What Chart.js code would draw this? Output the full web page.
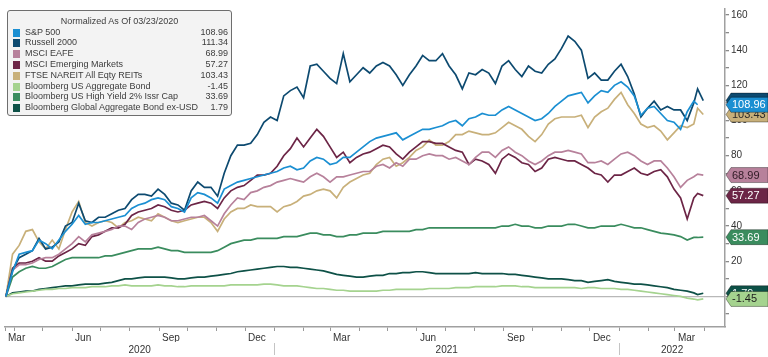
<!DOCTYPE html>
<html>
<head>
<meta charset="utf-8">
<script src="https://cdn.jsdelivr.net/npm/chart.js"></script>
<style>
html,body{margin:0;padding:0;background:#fff;}
#wrap{position:relative;width:768px;height:357px;overflow:hidden;}
#c{position:absolute;left:0;top:0;}
#legend{position:absolute;left:7px;top:10px;width:225px;height:106px;box-sizing:border-box;background:#f3f3f3;border:1px solid #6e6e6e;border-radius:3px;font-family:"Liberation Sans",Arial,sans-serif;font-size:9px;color:#3c3c3c;}
#legend .title{position:absolute;left:0;right:0;top:5px;text-align:center;line-height:11px;}
#legend .row{position:absolute;left:0;right:0;height:11px;line-height:11px;}
#legend .sw{position:absolute;left:5px;top:2px;width:7px;height:8px;}
#legend .nm{position:absolute;left:17px;top:0;white-space:nowrap;}
#legend .vl{position:absolute;right:3px;top:0;white-space:nowrap;}
</style>
</head>
<body>
<div id="wrap">
<canvas id="c" width="768" height="357"></canvas>
<div id="legend"></div>
</div>
<script>
// ---------- data ----------
const legendTitle = 'Normalized As Of 03/23/2020';
const seriesNames = ['S&P 500','Russell 2000','MSCI EAFE','MSCI Emerging Markets','FTSE NAREIT All Eqty REITs','Bloomberg US Aggregate Bond','Bloomberg US High Yield 2% Issr Cap','Bloomberg Global Aggregate Bond ex-USD'];
const lastLabels = ['108.96','111.34','68.99','57.27','103.43','-1.45','33.69','1.79'];
const monthNames = ['Jan','Feb','Mar','Apr','May','Jun','Jul','Aug','Sep','Oct','Nov','Dec'];
const quarterMonths = ['Mar','Jun','Sep','Dec'];
const yearLabels = ['2020','2021','2022'];

const dates = ['2020-03-23','2020-03-30','2020-04-06','2020-04-13','2020-04-20','2020-04-27','2020-05-04','2020-05-11','2020-05-18','2020-05-25',
'2020-06-01','2020-06-08','2020-06-15','2020-06-22','2020-06-29','2020-07-06','2020-07-13','2020-07-20','2020-07-27','2020-08-03',
'2020-08-10','2020-08-17','2020-08-24','2020-08-31','2020-09-07','2020-09-14','2020-09-21','2020-09-28','2020-10-05','2020-10-12',
'2020-10-19','2020-10-26','2020-11-02','2020-11-09','2020-11-16','2020-11-23','2020-11-30','2020-12-07','2020-12-14','2020-12-21',
'2020-12-28','2021-01-04','2021-01-11','2021-01-18','2021-01-25','2021-02-01','2021-02-08','2021-02-15','2021-02-22','2021-03-01',
'2021-03-08','2021-03-15','2021-03-22','2021-03-29','2021-04-05','2021-04-12','2021-04-19','2021-04-26','2021-05-03','2021-05-10',
'2021-05-17','2021-05-24','2021-05-31','2021-06-07','2021-06-14','2021-06-21','2021-06-28','2021-07-05','2021-07-12','2021-07-19',
'2021-07-26','2021-08-02','2021-08-09','2021-08-16','2021-08-23','2021-08-30','2021-09-06','2021-09-13','2021-09-20','2021-09-27',
'2021-10-04','2021-10-11','2021-10-18','2021-10-25','2021-11-01','2021-11-08','2021-11-15','2021-11-22','2021-11-29','2021-12-06',
'2021-12-13','2021-12-20','2021-12-27','2022-01-03','2022-01-10','2022-01-17','2022-01-24','2022-01-31','2022-02-07','2022-02-14',
'2022-02-21','2022-02-28','2022-03-07','2022-03-14','2022-03-21','2022-03-25','2022-03-31'];

const sp500 = [0,14,24,25,26,32,30,27,32,37, 41,46,41,42,42,43,44,45,46,50, 52,53,55,56,55,51,50,48,56,59,
 58,56,53,61,63,65,66,67,68,69, 70,71,73,74,72,73,77,79,78,75, 76,79,79,82,85,88,90,91,92,93,
 89,91,93,95,95,96,97,99,100,97, 101,102,104,103,103,106,108,106,104,102, 100,101,104,108,111,114,115,116,110,114,
 117,116,120,122,119,114,103,107,108,104, 100,99,95,105,111,108.96];
const russell2000 = [0,15,22,24,26,33,27,28,31,40, 42,53,43,42,45,45,47,49,50,55, 58,58,57,61,58,53,52,49,60,65,
 62,62,57,70,80,86,86,87,92,99, 102,100,114,117,119,113,131,132,128,124, 121,138,122,126,130,127,131,133,131,126,
 120,126,131,137,134,134,138,131,126,118, 127,126,129,127,121,131,134,129,125,131, 128,127,132,135,141,148,145,140,124,127,
 123,123,128,132,125,115,102,107,111,106, 108,106,106,100,110,118,111.34];
const msciEafe = [0,15,18,18,19,21,22,22,24,27, 30,34,31,35,36,37,38,40,40,38, 42,44,45,46,45,43,43,44,45,45,
 46,43,40,47,52,56,55,59,60,62, 63,65,66,67,66,65,68,70,68,65, 68,68,69,70,71,71,74,75,73,76,
 74,78,78,80,81,80,80,78,79,77, 75,79,82,82,79,83,85,82,80,77, 75,77,80,82,82,83,82,81,76,76,
 77,75,78,81,82,80,77,75,77,77, 73,68,62,66,68,69.5,68.99];
const msciEm = [0,16,19,19,20,22,20,20,23,25, 27,30,29,34,35,37,39,39,41,46, 48,49,50,52,51,49,48,49,52,53,
 54,53,50,56,60,62,63,66,69,69, 70,74,80,84,90,85,90,95,91,85, 79,82,76,79,81,82,84,86,85,81,
 78,82,85,88,88,87,87,85,83,82, 75,78,77,75,70,78,81,79,76,75, 71,73,78,79,78,77,77,75,73,70,
 69,65,69,69,71,73,70,69,71,72, 68,61,56,44,56,58.5,57.27];
const nareit = [0,24,29,37,38,31,27,32,27,38, 48,54,42,40,42,43,42,39,42,43, 45,44,43,47,45,43,42,43,44,45,
 45,42,37,44,48,50,50,52,51,51, 51,48,51,52,54,57,58,60,61,60, 56,62,65,67,69,70,75,78,79,74,
 76,79,83,85,89,86,86,88,92,92, 94,93,92,92,93,96,99,97,95,91, 88,92,98,101,102,102,102,103,96,102,
 105,107,112,116,109,104,98,96,97,94, 89,93,97,96,98,107,103.43];
const usAgg = [0,1.5,2,2.5,3,3.5,4,4,4.5,4.5, 5,5,5,5.5,5.5,5.5,6,6,6.5,6, 6,6,6,6.5,6,6,5.5,5.5,6,6,
 6,6,6,6,6.5,6.5,6.5,6.5,6.5,7, 7,6.5,6,6,6,5.5,5,4.5,4.5,4, 3.5,3.5,3,3,3,3,3,3.5,3.5,4,
 4,4,4,4,4.5,4.5,4.5,4.5,5,5, 5,5.5,5.5,5.5,5.5,6,6,6,5.5,5.5, 5,5,5,5,5,5,5,4.5,5,5,
 4.5,4.5,4.5,4,4,3.5,3,2.5,2,1.5, 1,0.5,0,-1,-1.5,-2,-1.45];
const usHighYield = [0,11,14,16,17,16,16,17,19,21, 22,22,22,22,22,23,23,24,25,26, 27,27,27,28,27,26,26,25,25,25,
 25,25,26,28,30,31,32,32,33,33, 33,33,34,34,34,35,36,36,35,35, 34,34,35,35,36,36,36,37,37,37,
 37,37,38,38,39,39,39,39,39,39, 39,39,39,39,39,40,40,41,40,40, 39,39,40,40,40,41,41,40,39,39,
 40,40,40,41,40,39,39,38,37,36, 35.5,35,34,32,33.5,33.5,33.69];
const globalAggExUsd = [0,2,2.5,3,3,4,4.5,5,5.5,6, 6,6.5,7,7,7,7.5,8,9,10,10, 10.5,11,11,11,11,10.5,10,10,10.5,11,
 11,11.5,12,12.5,13,14,14.5,15,15.5,16, 16.5,17,17,16.5,16.5,16,15.5,15,14.5,13.5, 12.5,12,11.5,11,11,11.5,12,12,13,13,
 13.5,13.5,14,14,13.5,13,13,13,13,13, 13,13.5,13,13,13,13,12.5,12.5,12,11.5, 11,10.5,10,10,10,9.5,9,9,8,8.5,
 9,9.5,8.5,8,7.5,7,7,6.5,6,5.5, 5,4,3.5,3,2,1,1.79];

const yTickStep = 10;
const yLabelStep = 20;

// ---------- styles ----------
const colors = ['#1b8fd2','#0d4a70','#b7819b','#6c2546','#c8b07a','#a5d38f','#3a8c5e','#0e5147'];
const tagTextColors = ['#ffffff','#ffffff','#2e1a24','#ffffff','#2a2a2a','#1e1e1e','#ffffff','#ffffff'];
const tagShowText = [true,false,true,true,true,true,true,true];
const tagDrawOrder = [7,6,5,4,3,2,1,0];
const FONT = '"Liberation Sans", Arial, sans-serif';

const seriesValues = [sp500, russell2000, msciEafe, msciEm, nareit, usAgg, usHighYield, globalAggExUsd];

// ---------- legend (HTML) ----------
(function(){
  const lg = document.getElementById('legend');
  const t = document.createElement('div'); t.className='title'; t.textContent = legendTitle; lg.appendChild(t);
  seriesNames.forEach((n,i)=>{
    const r = document.createElement('div'); r.className='row'; r.style.top = (15.5 + i*10.8) + 'px';
    const s = document.createElement('div'); s.className='sw'; s.style.background = colors[i]; r.appendChild(s);
    const a = document.createElement('div'); a.className='nm'; a.textContent = n; r.appendChild(a);
    const b = document.createElement('div'); b.className='vl'; b.textContent = lastLabels[i]; r.appendChild(b);
    lg.appendChild(r);
  });
})();

// ---------- axes helpers ----------
const base = Date.UTC(2020,2,23);
const toDay = s => (Date.UTC(+s.slice(0,4), +s.slice(5,7)-1, +s.slice(8,10)) - base)/86400000;
const xs = dates.map(toDay);
const X_MIN = -1, X_MAX = 761;

const monthTicks = [{value:X_MIN, label:'Mar'}];
for (let y=2020; y<=2022; y++) for (let m=0; m<12; m++) {
  const d = (Date.UTC(y,m,1)-base)/86400000;
  if (d > 0 && d <= X_MAX) monthTicks.push({value:d, label: quarterMonths.includes(monthNames[m]) ? monthNames[m] : ''});
}
const jan2021 = toDay('2021-01-01'), jan2022 = toDay('2022-01-01');
const yearTicks = [
  {value:(X_MIN+jan2021)/2, label:yearLabels[0]},
  {value:(jan2021+jan2022)/2, label:yearLabels[1]},
  {value:(jan2022+X_MAX)/2, label:yearLabels[2]}
];

const datasets = seriesNames.map((n,i)=>({
  label:n,
  data: seriesValues[i].map((v,j)=>({x:xs[j], y:v})),
  borderColor: colors[i], backgroundColor: colors[i],
  borderWidth:1.7, pointRadius:0, tension:0, fill:false
}));

const tagPlugin = {
  id:'tags',
  afterDraw(chart){
    const c = chart.ctx, ys = chart.scales.y, xsc = chart.scales.x, ca = chart.chartArea;
    const yb = chart.scales.xYear;
    c.save();
    c.strokeStyle = '#c4c4c4'; c.lineWidth = 1;
    [jan2021, jan2022].forEach(d=>{
      const px = Math.round(xsc.getPixelForValue(d)) + 0.5;
      c.beginPath(); c.moveTo(px, yb.top+1); c.lineTo(px, yb.bottom-2); c.stroke();
    });
    const x0 = ca.right;
    tagDrawOrder.forEach(i=>{
      const arr = seriesValues[i];
      const y = ys.getPixelForValue(arr[arr.length-1]);
      const h = 7.5;
      c.beginPath();
      c.moveTo(x0+1, y);
      c.lineTo(x0+6, y-h);
      c.lineTo(768, y-h);
      c.lineTo(768, y+h);
      c.lineTo(x0+6, y+h);
      c.closePath();
      c.fillStyle = colors[i]; c.fill();
      c.strokeStyle = 'rgba(0,0,0,0.35)'; c.lineWidth = 1; c.stroke();
      if (tagShowText[i]) {
        c.fillStyle = tagTextColors[i];
        c.font = '11px ' + FONT;
        c.textAlign = 'left'; c.textBaseline = 'middle';
        c.fillText(lastLabels[i], x0+7, y+0.5);
      }
    });
    c.restore();
  }
};

new Chart(document.getElementById('c'), {
  type:'line',
  data:{datasets},
  options:{
    responsive:false, animation:false, maintainAspectRatio:false,
    layout:{padding:{left:5, top:9, right:0, bottom:0}},
    plugins:{legend:{display:false}, tooltip:{enabled:false}},
    scales:{
      x:{
        type:'linear', position:'bottom', min:X_MIN, max:X_MAX,
        afterBuildTicks: s => { s.ticks = monthTicks.map(t=>({value:t.value})); },
        ticks:{autoSkip:false, maxRotation:0, minRotation:0, align:'start', labelOffset:3, padding:1,
               color:'#333', font:{family:FONT, size:10},
               callback:(v,i)=> monthTicks[i] ? monthTicks[i].label : ''},
        grid:{drawOnChartArea:false, tickLength:4, color:'#999', tickColor:'#999'},
        border:{color:'#a0a0a0', width:1.5},
        afterFit: s => { s.height = 15; }
      },
      xYear:{
        type:'linear', position:'bottom', weight:1, min:X_MIN, max:X_MAX,
        afterBuildTicks: s => { s.ticks = yearTicks.map(t=>({value:t.value})); },
        ticks:{autoSkip:false, maxRotation:0, minRotation:0, padding:2,
               color:'#333', font:{family:FONT, size:10},
               callback:(v,i)=> yearTicks[i] ? yearTicks[i].label : ''},
        grid:{display:false, drawTicks:false},
        border:{display:false},
        afterFit: s => { s.height = 15; }
      },
      y:{
        position:'right', min:-17.4, max:163.4,
        ticks:{stepSize:yTickStep, includeBounds:false, padding:2, color:'#333', font:{family:FONT, size:10},
               callback:v => (Math.round(v) % yLabelStep === 0) ? String(Math.round(v)) : ''},
        grid:{color: c => (c.tick && c.tick.value === 0) ? '#b8b8b8' : 'rgba(0,0,0,0)', tickColor:'#8a8a8a', tickLength:4, lineWidth:1.3},
        border:{color:'#a0a0a0', width:1.5},
        afterFit: s => { s.width = 43; }
      }
    }
  },
  plugins:[tagPlugin]
});
</script>
</body>
</html>
